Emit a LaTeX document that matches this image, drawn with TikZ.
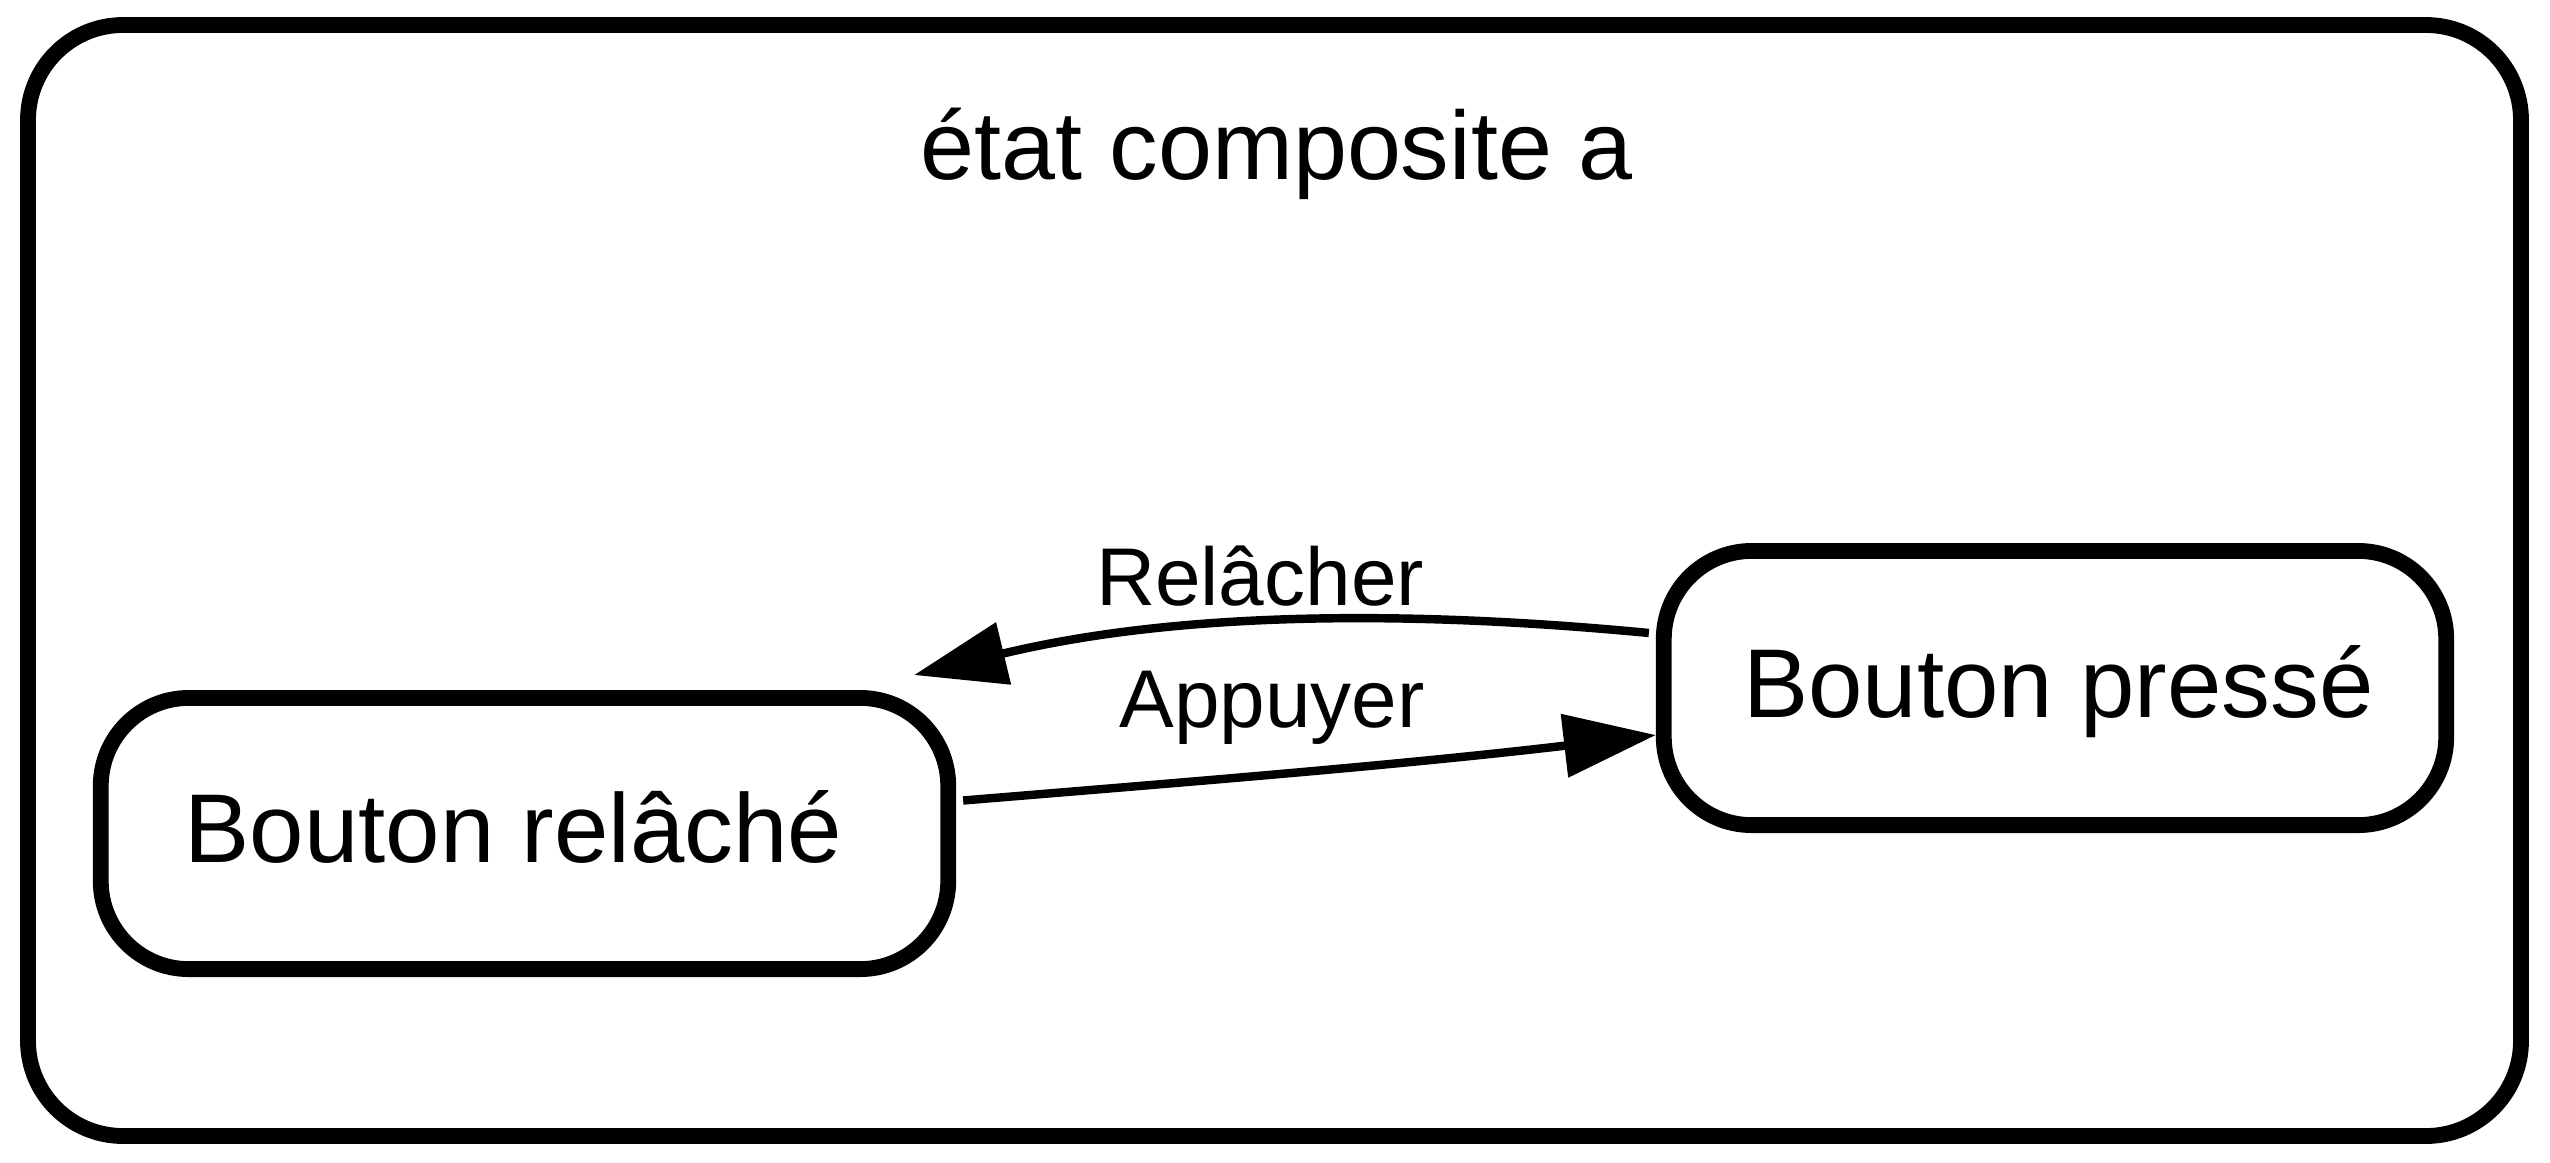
\documentclass[tikz,border=0pt]{standalone}
\usepackage{fontspec}
\setmainfont{Liberation Sans}
\usetikzlibrary{arrows.meta}
\begin{document}
\begin{tikzpicture}[x=0.01cm,y=-0.01cm,
  statebox/.style={draw,line width=4.5pt,rounded corners=0.88cm,inner sep=0pt,
    font=\fontsize{27.8}{33}\selectfont,text height=0.58cm,text depth=0cm},
  trans/.style={line width=2.4pt,-{Triangle[length=0.92cm,width=0.62cm]}},
  tlabel/.style={anchor=base,inner sep=0pt,font=\fontsize{23.3}{28}\selectfont}]
\useasboundingbox (0,0) rectangle (2550,1162);
\draw[line width=4.5pt,rounded corners=0.95cm] (28,25) rectangle (2521,1136);
\node[anchor=base,inner sep=0pt,font=\fontsize{27.6}{33}\selectfont] (title) at (1277,179) {état composite a};
\node[statebox,minimum width=8.47cm,minimum height=2.71cm] (rel) at (524.5,833.5) {Bouton relâché\hspace*{0.22cm}};
\node[statebox,minimum width=7.82cm,minimum height=2.74cm] (press) at (2055,688) {\hspace*{0.07cm}Bouton pressé};
\draw[trans] ([xshift=0.07cm,yshift=0.33cm]rel.east) .. controls (1200,781) and (1400,765) .. ([yshift=-0.47cm]press.west);
\draw[trans] ([xshift=-0.07cm,yshift=0.55cm]press.west) .. controls (1450,614) and (1200,606) .. ([xshift=-0.42cm,yshift=0.15cm]rel.north east);
\node[tlabel] (lrel) at (1260,605) {Relâcher};
\node[tlabel] (lapp) at (1272,727) {Appuyer};
\end{tikzpicture}
\end{document}
